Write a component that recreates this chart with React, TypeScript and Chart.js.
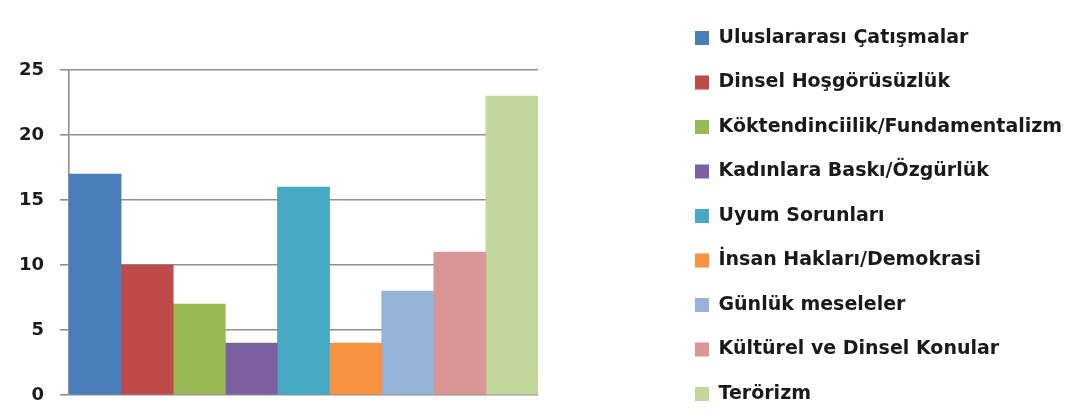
import React, { useEffect, useRef } from "react";
import { Chart, registerables } from "chart.js";

Chart.register(...registerables);

const categories = ["Konular"];
const seriesNames = [
  "Uluslararası Çatışmalar",
  "Dinsel Hoşgörüsüzlük",
  "Köktendinciilik/Fundamentalizm",
  "Kadınlara Baskı/Özgürlük",
  "Uyum Sorunları",
  "İnsan Hakları/Demokrasi",
  "Günlük meseleler",
  "Kültürel ve Dinsel Konular",
  "Terörizm",
];
const seriesValues = [17, 10, 7, 4, 16, 4, 8, 11, 23];
const seriesColors = [
  "#4A7EBB",
  "#BE4B48",
  "#98B954",
  "#7D60A0",
  "#46AAC5",
  "#F69240",
  "#95B3D7",
  "#D99694",
  "#C3D69B",
];
const yTicks = [0, 5, 10, 15, 20, 25];

const W = 1086;
const H = 429;
const PLOT_LEFT = 69;
const PLOT_RIGHT = 538;
const PLOT_TOP = 70;
const PLOT_BOTTOM = 395;
const LEGEND_BOX_X = 695;
const LEGEND_FONT_SIZE = 19;
const LEGEND_PAD = 44.5 - LEGEND_FONT_SIZE;
const FONT = "'DejaVu Sans', sans-serif";

export default function App() {
  const ref = useRef<HTMLCanvasElement | null>(null);

  useEffect(() => {
    const canvas = ref.current;
    if (!canvas) return;
    const chart = new Chart(canvas, {
      type: "bar",
      data: {
        labels: categories,
        datasets: seriesNames.map((name, i) => ({
          label: name,
          data: [seriesValues[i]],
          backgroundColor: seriesColors[i],
          borderWidth: 0,
          categoryPercentage: 1,
          barPercentage: 1,
        })),
      },
      options: {
        responsive: false,
        animation: false,
        layout: { padding: { left: 0, right: 0, top: 0, bottom: 0 } },
        scales: {
          x: {
            position: "top",
            grid: { display: false },
            border: { display: false },
            ticks: { display: false },
            afterFit: (s: any) => {
              s.height = PLOT_TOP;
            },
          },
          x2: {
            type: "linear",
            position: "bottom",
            grid: { display: false },
            border: { display: false },
            ticks: { display: false },
            afterFit: (s: any) => {
              s.height = H - PLOT_BOTTOM;
            },
          },
          y: {
            position: "left",
            min: 0,
            max: 25,
            afterBuildTicks: (s: any) => {
              s.ticks = yTicks.map((v) => ({ value: v }));
            },
            grid: {
              color: "#8f8f8f",
              lineWidth: 1.6,
              tickLength: 9,
              drawTicks: true,
            },
            border: { color: "#8f8f8f", width: 1.6 },
            ticks: {
              padding: 16,
              color: "#1a1a1a",
              font: { family: FONT, size: 18, weight: "bold" },
            },
            afterFit: (s: any) => {
              s.width = PLOT_LEFT;
            },
          },
          y2: {
            type: "linear",
            position: "right",
            grid: { display: false },
            border: { display: false },
            ticks: { display: false },
            afterFit: (s: any) => {
              s.width = LEGEND_BOX_X - LEGEND_PAD - PLOT_RIGHT;
            },
          },
        },
        plugins: {
          title: { display: false },
          tooltip: { enabled: false },
          legend: {
            position: "right",
            align: "end",
            maxWidth: 600,
            labels: {
              boxWidth: 14,
              boxHeight: 14,
              padding: LEGEND_PAD,
              color: "#1a1a1a",
              font: { family: FONT, size: LEGEND_FONT_SIZE, weight: "bold" },
            },
          },
        },
      },
    } as any);

    const lw = (chart as any).legend.width;
    const pr = W - (LEGEND_BOX_X - LEGEND_PAD) - lw;
    if (pr > 0) {
      (chart.options as any).layout.padding.right = pr;
      chart.update();
    }

    return () => chart.destroy();
  }, []);

  return (
    <div
      style={{
        position: "fixed",
        left: 0,
        top: 0,
        width: W,
        height: 412,
        overflow: "hidden",
        background: "#ffffff",
      }}
    >
      <canvas ref={ref} width={W} height={H} style={{ width: W, height: H, display: "block" }} />
    </div>
  );
}
